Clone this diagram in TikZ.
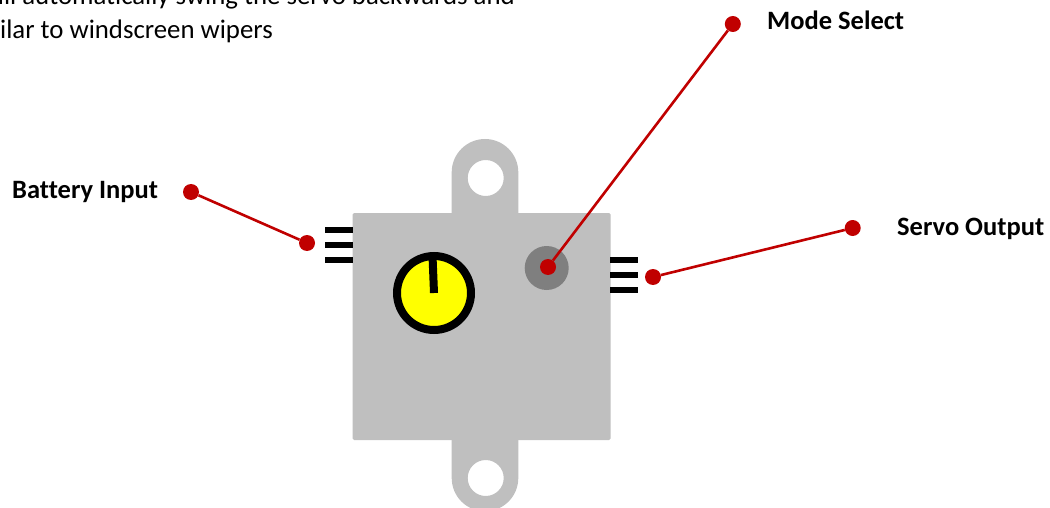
\documentclass[tikz,border=0pt]{standalone}
\usepackage{fontspec}
\setmainfont[RawFeature={-liga}]{Carlito}
\definecolor{bodygrey}{RGB}{191,191,191}
\definecolor{btngrey}{RGB}{127,127,127}
\definecolor{leadred}{RGB}{192,0,0}
\definecolor{knobyellow}{RGB}{255,255,0}
\tikzset{
  x=1pt,y=-1pt,
  dot/.style={circle,fill=leadred,draw=none,inner sep=0pt,minimum size=16pt},
  leadline/.style={draw=leadred,line width=2.6pt},
  label/.style={font=\fontsize{26.5}{30}\selectfont\bfseries,inner sep=0pt,text=black},
  bodytext/.style={font=\fontsize{26.8}{32}\selectfont,inner sep=0pt,text=black},
  pin/.style={fill=black,draw=none},
}
\begin{document}
\begin{tikzpicture}
\useasboundingbox (0,0) rectangle (1050,508);
\begin{scope}
\clip (0,0) rectangle (1050,508);
% body
\fill[bodygrey,even odd rule] (451.7,215) -- (451.7,172.3) arc[start angle=180,end angle=360,x radius=33.3,y radius=33.3] -- (518.3,215) -- cycle
  (485.7,178) circle[radius=18];
\fill[bodygrey,even odd rule] (451.7,438) -- (451.7,478) arc[start angle=180,end angle=360,x radius=33.3,y radius=-33.3] -- (518.3,438) -- cycle
  (485.7,478) circle[radius=18];
\fill[bodygrey,rounded corners=1.5pt] (352.5,213) rectangle (610.5,440);
% pins
\foreach \y in {230,245,260} \fill[pin] (325,\y-3) rectangle (353,\y+3);
\foreach \y in {260,275,290} \fill[pin] (610,\y-3) rectangle (638,\y+3);
% knob
\node[circle,draw=black,line width=8pt,fill=knobyellow,minimum size=74pt,inner sep=0pt] (knob) at (434,293) {};
\draw[black,line width=8pt] (432.6,258) -- (434,293);
% mode button
\node[circle,fill=btngrey,draw=none,minimum size=44pt,inner sep=0pt] (btn) at (546.7,268) {};
% leader dots
\node[dot] (modeA) at (732.8,24) {};
\node[dot] (modeB) at (548,267) {};
\node[dot] (batA) at (191,192) {};
\node[dot] (batB) at (307,243) {};
\node[dot] (srvA) at (852.7,228) {};
\node[dot] (srvB) at (653,277) {};
\draw[leadline] (modeA) -- (modeB);
\draw[leadline] (batA) -- (batB);
\draw[leadline] (srvA) -- (srvB);
% labels
\node[label,anchor=base west] (modeL) at (767,30) {Mode Select};
\node[label,anchor=base west] (batL) at (12,199) {Battery Input};
\node[label,anchor=base west] (srvL) at (897,235) {Servo Output};
\node[bodytext,anchor=base east] (t1) at (515,5) {ill automatically swing the servo backwards and};
\node[bodytext,anchor=base west] (t2) at (0,39) {ilar to windscreen wipers};
\end{scope}
\end{tikzpicture}
\end{document}
